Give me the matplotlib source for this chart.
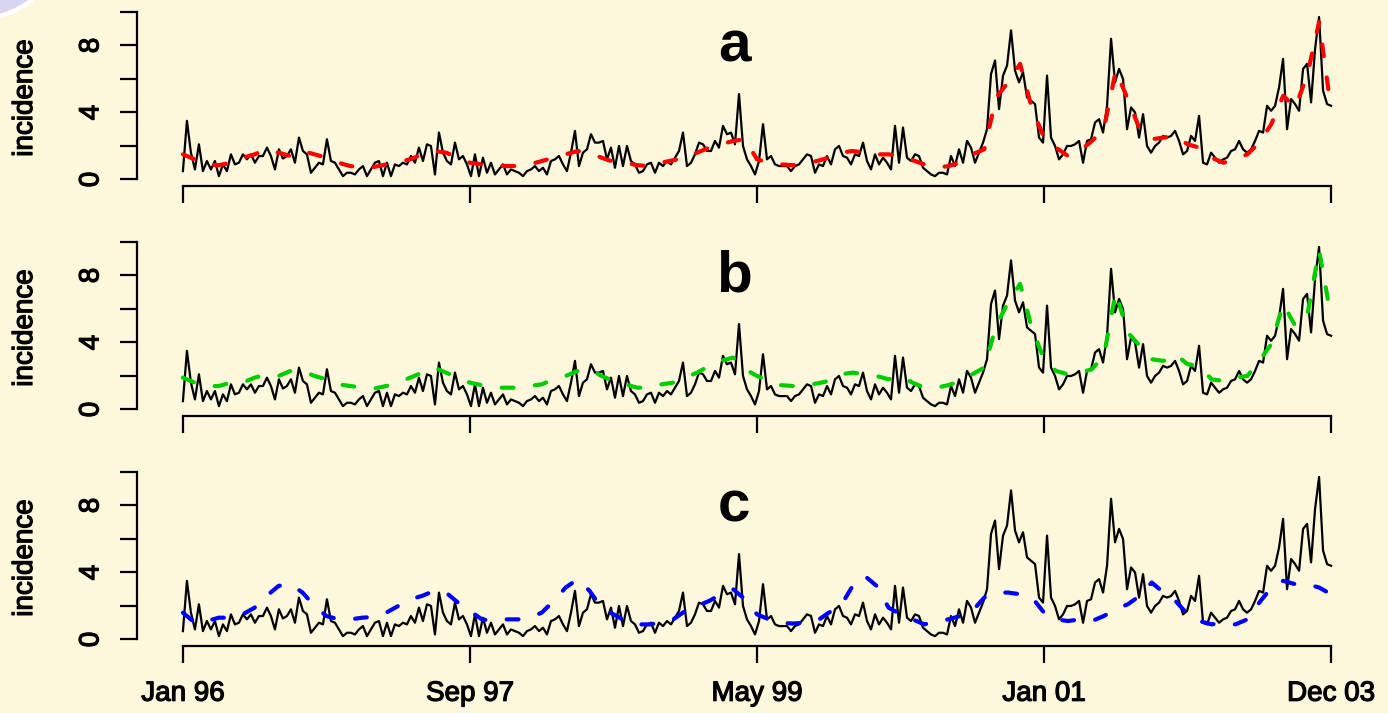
import numpy as np
import matplotlib
matplotlib.use('Agg')
import matplotlib.pyplot as plt
import matplotlib.patheffects as pe
from matplotlib.patches import Ellipse

incidence = [
    0.5, 3.5, 1.6, 0.6, 2.1, 0.5, 1.1, 0.6, 1.1, 0.2, 0.9, 0.5, 1.5, 0.9, 1.0, 1.5, 1.2, 1.5, 1.0, 1.4,
    1.4, 1.9, 1.4, 0.6, 1.8, 1.25, 1.4, 1.8, 1.0, 2.5, 1.7, 1.5, 0.4, 0.7, 1.0, 0.9, 2.4, 1.1, 1.0, 0.6,
    0.2, 0.4,
    0.4, 0.3, 0.6, 0.8, 0.2, 0.6, 1.0, 1.1, 0.2, 1.0, 0.2, 0.9, 0.8, 1.0, 0.9, 1.4, 1.0, 1.9, 1.1, 2.1,
    2.0, 0.3, 2.8, 1.6, 1.1, 0.9, 2.2, 1.2, 1.4, 0.9, 0.2, 1.5, 0.2, 1.3, 0.4, 1.0, 0.3, 0.6, 0.9, 0.3,
    0.6,
    0.5, 0.4, 0.2, 0.5, 0.6, 0.8, 0.5, 0.7, 0.3, 1.1, 1.2, 1.4, 0.9, 0.5, 1.6, 2.9, 0.8, 1.6, 1.8, 2.7,
    2.2, 2.2, 2.3, 1.2, 1.9, 0.7, 2.0, 0.8, 2.0, 1.1, 0.9, 0.4, 0.5, 0.9, 1.0, 0.4, 1.0, 0.8, 1.1, 0.9,
    1.3,
    1.7, 2.8, 0.8, 1.0, 1.5, 2.2, 2.1, 1.7, 1.7, 2.3, 1.9, 3.2, 2.7, 2.8, 2.1, 5.1, 2.0, 1.2, 0.8, 0.3,
    1.1, 3.3, 1.2, 1.4, 0.9, 0.8, 0.8, 0.8, 0.5, 0.8, 0.9, 1.2, 1.5, 1.4, 0.4, 0.9, 0.8, 1.4, 0.9, 1.8,
    2.0,
    1.4, 1.3, 0.9, 1.5, 1.4, 2.2, 1.1, 0.6, 1.5, 0.9, 1.3, 1.0, 0.6, 3.2, 1.0, 3.1, 1.3, 1.1, 1.5, 1.4,
    0.7, 0.5, 0.3, 0.2, 0.4, 0.4, 0.3, 1.4, 0.8, 1.8, 1.0, 2.3, 1.9, 1.0, 1.6, 2.2, 3.0, 6.3, 7.1,
    4.2, 6.2, 6.8, 8.9, 6.5, 5.8, 6.4, 4.9, 4.7, 4.5, 2.5, 2.2, 6.2, 2.5, 2.0, 1.2, 1.5, 2.0, 2.0, 2.1,
    2.3, 1.0, 2.3, 2.4, 3.4, 3.6, 2.8, 4.4, 8.4, 5.8, 6.6, 6.0, 3.0, 4.3, 4.0, 2.5, 3.9, 2.0, 1.6, 2.0,
    2.2, 2.6, 2.5,
    2.6, 2.9, 2.3, 1.5, 1.7, 2.6, 2.3, 3.8, 1.0, 0.9, 1.6, 1.3, 1.0, 1.2, 1.3, 1.7, 1.8, 2.3, 1.8, 1.6,
    1.8, 2.3, 2.9, 2.8, 4.4, 4.1, 4.4, 5.5, 7.2, 3.0, 4.8, 4.5, 4.1, 6.6, 6.9, 4.6, 7.8, 9.7, 5.3, 4.5,
    4.4,
]

# fitted curves (model a, b, c)
fit_a = [
    1.5, 1.2, 0.9, 0.85, 1.0, 1.3, 1.5, 1.8, 1.6, 1.4, 1.7, 1.5, 1.3, 1.0,
    0.8, 0.7, 0.75, 0.9, 1.05, 1.2, 1.5, 1.7, 1.6, 1.3, 1.0, 0.9, 0.85, 0.8,
    0.8, 0.9, 1.1, 1.3, 1.5, 1.7, 1.6, 1.3, 1.05, 1.0, 0.85, 0.8, 1.0, 1.15,
    1.3, 1.6, 1.9, 2.1, 2.3, 2.4, 1.2, 1.0, 0.9, 0.85, 0.95, 1.1, 1.3,
    1.6, 1.7, 1.6, 1.5, 1.5, 1.4, 1.15, 0.9, 0.7, 0.8, 1.0, 1.5, 1.8,
    4.9, 5.8, 6.9, 4.2, 2.5, 1.9, 1.4, 1.7, 2.3, 3.0, 6.5, 4.8, 3.0, 2.4,
    2.5, 2.6, 2.1, 1.9, 1.3, 1.0, 1.2, 1.5, 2.2, 3.3, 5.0, 4.3, 6.2, 9.4, 4.2,
]
fit_b = [
    1.9, 1.6, 1.4, 1.4, 1.6, 1.6, 1.9, 2.1, 2.0, 2.3, 2.3, 2.0, 1.8, 1.5,
    1.4, 1.3, 1.25, 1.4, 1.6, 1.9, 2.2, 2.5, 2.2, 1.9, 1.6, 1.45, 1.3, 1.3,
    1.3, 1.4, 1.5, 1.8, 2.0, 2.3, 2.4, 2.0, 1.7, 1.5, 1.3, 1.3, 1.5, 1.6,
    1.9, 2.2, 2.6, 2.9, 3.1, 2.4, 2.0, 1.7, 1.45, 1.4, 1.45, 1.55, 1.7,
    2.1, 2.2, 2.1, 2.0, 1.8, 2.0, 1.6, 1.3, 1.3, 1.45, 1.7, 2.1, 2.5,
    5.0, 6.4, 7.5, 4.8, 3.0, 2.3, 2.1, 2.2, 2.4, 3.2, 7.0, 4.6, 3.8, 3.0,
    2.9, 3.3, 2.7, 2.6, 1.8, 1.7, 1.9, 2.0, 2.9, 3.9, 6.3, 5.0, 5.6, 9.5, 5.5,
]
fit_c = [
    1.6, 1.0, 1.1, 1.3, 1.3, 1.5, 1.9, 2.6, 3.2, 3.3, 2.8, 2.0, 1.4, 1.2,
    1.2, 1.3, 1.35, 1.6, 2.0, 2.4, 2.6, 2.9, 2.8, 2.2, 1.7, 1.2, 1.1, 1.2,
    1.2, 1.3, 1.6, 2.3, 3.1, 3.6, 2.9, 1.9, 1.5, 1.1, 0.9, 0.9, 1.0, 1.2,
    1.7, 2.0, 2.3, 2.7, 3.0, 2.4, 1.5, 1.2, 1.0, 0.95, 1.0, 1.1, 1.6,
    2.0, 3.2, 3.8, 3.2, 1.9, 1.5, 1.2, 0.9, 1.1, 1.2, 1.4, 1.7, 2.5,
    2.8, 2.8, 2.7, 2.5, 1.6, 1.2, 1.1, 1.2, 1.1, 1.4, 1.8, 2.1, 2.6, 3.4,
    2.8, 2.3, 1.5, 1.1, 0.9, 1.0, 0.9, 1.2, 2.2, 3.1, 3.5, 3.3, 3.3, 3.1, 2.7,
]

tick_labels = ['Jan 96', 'Sep 97', 'May 99', 'Jan 01', 'Dec 03']
panel_names = ['a', 'b', 'c']
fit_colors = ['#ff0000', '#00cd00', '#0000ff']

plt.rcParams['font.family'] = ['Liberation Sans', 'DejaVu Sans']
plt.rcParams['lines.scale_dashes'] = False

bg = '#fdf7dc'
W, H = 1388, 713
fig = plt.figure(figsize=(W / 100, H / 100), dpi=100, facecolor=bg)

# lavender corner of the slide background
fig.patches.append(Ellipse((-24 / W, 1 - (-72) / H), 182 / W, 182 / H, transform=fig.transFigure,
                           facecolor='#d8d5f2', edgecolor='white', linewidth=3, zorder=0))

# slightly heavier glyphs, like the original raster
heavy = [pe.withStroke(linewidth=0.9, foreground='black')]

obs = np.array(incidence)
n = len(obs)
x_obs = np.arange(n)
ticks = np.linspace(0, n - 1, len(tick_labels))

# R-style plot regions (4% padding around the data)
left_px, right_px = 137, 1377
bottoms_px = [186, 416, 646]
ylim = (-0.39, 10.1)
px_per_unit = 16.75
height_px = (ylim[1] - ylim[0]) * px_per_unit

for i, (fit, name, col) in enumerate(zip([fit_a, fit_b, fit_c], panel_names, fit_colors)):
    ax = fig.add_axes([left_px / W, 1 - bottoms_px[i] / H,
                       (right_px - left_px) / W, height_px / H])
    ax.set_facecolor('none')

    ax.plot(x_obs, obs, color='black', lw=1.6, solid_joinstyle='round')
    x_fit = np.linspace(0, n - 1, len(fit))
    ax.plot(x_fit, fit, color=col, lw=3.0, dashes=(8.5, 15.5), dash_capstyle='round')

    ax.set_xlim(-0.04 * (n - 1), 1.04 * (n - 1))
    ax.set_ylim(*ylim)

    for s in ['top', 'right']:
        ax.spines[s].set_visible(False)
    ax.spines['left'].set_bounds(0, 10)
    ax.spines['bottom'].set_bounds(0, n - 1)
    for s in ['left', 'bottom']:
        ax.spines[s].set_linewidth(1.6)

    ax.set_yticks([0, 2, 4, 6, 8, 10])
    ax.set_yticklabels(['0', '', '4', '', '8', ''])
    ax.tick_params(axis='y', length=12, width=1.6, labelsize=20, pad=11.5)
    for lab in ax.get_yticklabels():
        lab.set_rotation(90)
        lab.set_va('center')
        lab.set_path_effects(heavy)

    ax.set_xticks(ticks)
    if i == 2:
        ax.set_xticklabels(tick_labels)
    else:
        ax.set_xticklabels([])
    ax.tick_params(axis='x', length=12, width=1.6, labelsize=20, pad=13)
    for lab in ax.get_xticklabels():
        lab.set_path_effects(heavy)

    ax.text(-0.0903, 0.5, 'incidence', transform=ax.transAxes, rotation=90,
            ha='center', va='center', fontsize=20, path_effects=heavy)
    ax.text(0.4815, 0.711, name, transform=ax.transAxes, ha='center', va='baseline',
            fontsize=42, fontweight='bold')

fig.savefig('out.png', dpi=100, facecolor=bg)
